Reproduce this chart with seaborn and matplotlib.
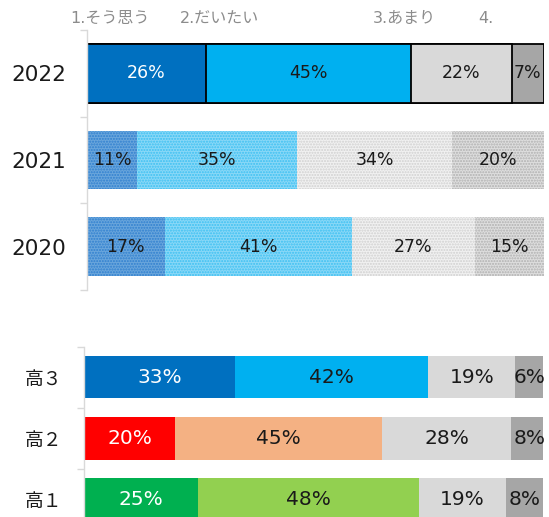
import numpy as np
import pandas as pd
import matplotlib
matplotlib.use("Agg")
import matplotlib.pyplot as plt
import seaborn as sns

# data
years = ["2022", "2021", "2020"]
year_agree = [26, 11, 17]
year_mostly = [45, 35, 41]
year_notmuch = [22, 34, 27]
year_no = [7, 20, 15]

grades = ["高３", "高２", "高１"]
grade_agree = [33, 20, 25]
grade_mostly = [42, 45, 48]
grade_notmuch = [19, 28, 19]
grade_no = [6, 8, 8]

headers = ["1.そう思う", "2.だいたい", "3.あまり", "4."]

sns.set_style("white")
plt.rcParams["font.family"] = ["Noto Sans CJK JP", "DejaVu Sans"]
num_font = ["DejaVu Sans", "Noto Sans CJK JP"]

W, H = 549, 517
fig = plt.figure(figsize=(W / 100, H / 100), dpi=100)
ax1 = fig.add_axes([87 / W, 1 - 290 / H, (543.5 - 87) / W, (290 - 30) / H])
ax2 = fig.add_axes([83.5 / W, 1 - 530 / H, (543 - 83.5) / W, (530 - 346.5) / H])

# colours per segment, per row
top_colors = [
    ["#0070c0", "#6aa6dc", "#6aa6dc"],
    ["#00b0f0", "#8ad8f7", "#8ad8f7"],
    ["#d9d9d9", "#f1f1f1", "#f1f1f1"],
    ["#a6a6a6", "#dedede", "#dedede"],
]
top_hatch = [
    [None, "#2f7fcf", "#2f7fcf"],
    [None, "#3cc0f2", "#3cc0f2"],
    [None, "#d0d0d0", "#d0d0d0"],
    [None, "#b0b0b0", "#b0b0b0"],
]
bottom_colors = [
    ["#0070c0", "#ff0000", "#00b050"],
    ["#00b0f0", "#f4b183", "#92d050"],
    ["#d9d9d9", "#d9d9d9", "#d9d9d9"],
    ["#a6a6a6", "#a6a6a6", "#a6a6a6"],
]


def stacked(ax, cats, segments, colors, hatches, height, label_size, white_first):
    cums = np.cumsum(np.array(segments), axis=0)
    # draw longest cumulative first so shorter ones sit on top
    for j in range(len(segments) - 1, -1, -1):
        df = pd.DataFrame({"cat": cats, "val": cums[j]})
        before = len(ax.patches)
        sns.barplot(data=df, x="val", y="cat", hue="cat", orient="h",
                    palette=dict(zip(cats, colors[j])), saturation=1,
                    width=height, errorbar=None, legend=False, ax=ax)
        for p in ax.patches[before:]:
            row = int(round(p.get_y() + p.get_height() / 2))
            if hatches is not None and hatches[j][row] is not None:
                p.set_hatch("......")
                p.set_edgecolor(hatches[j][row])
                p.set_linewidth(0)
            elif hatches is not None:
                p.set_edgecolor("black")
                p.set_linewidth(1.3)
            else:
                p.set_linewidth(0)
    for j, vals in enumerate(segments):
        for i, v in enumerate(vals):
            c = "white" if (j == 0 and white_first[i]) else "#1a1a1a"
            ax.text(cums[j][i] - v / 2, i, f"{v}%", ha="center", va="center",
                    fontsize=label_size, color=c, family=num_font)

    ax.set_xlim(0, 100)
    ax.set_ylim(len(cats) - 0.5, -0.5)
    ax.set_xlabel("")
    ax.set_ylabel("")
    ax.set_xticks([])
    sns.despine(ax=ax, top=True, right=True, bottom=True)
    ax.spines["left"].set_color("#d9d9d9")
    ax.spines["left"].set_linewidth(1)
    ax.set_yticks(np.arange(-0.5, len(cats)), minor=True)
    ax.tick_params(axis="y", which="minor", length=5, color="#d9d9d9", width=1,
                   direction="out", left=True)
    ax.tick_params(axis="y", which="major", length=0, pad=14)


stacked(ax1, years, [year_agree, year_mostly, year_notmuch, year_no],
        top_colors, top_hatch, 0.68, 12.5, [True, False, False])
ax1.tick_params(axis="y", which="major", labelsize=15.5, labelcolor="#1a1a1a", pad=15)
for t in ax1.get_yticklabels():
    t.set_family(num_font)

stacked(ax2, grades, [grade_agree, grade_mostly, grade_notmuch, grade_no],
        bottom_colors, None, 0.70, 14.5, [True, True, True])
ax2.tick_params(axis="y", which="major", labelsize=13.5, labelcolor="#1a1a1a", pad=15)

# header labels above the top chart
header_x = [-3.7, 20.4, 62.7, 85.6]
for hx, h in zip(header_x, headers):
    ax1.text(hx, -0.63, h, ha="left", va="center", fontsize=11.5, color="#8c8c8c",
             family=num_font)

fig.savefig("out.png", dpi=100)
